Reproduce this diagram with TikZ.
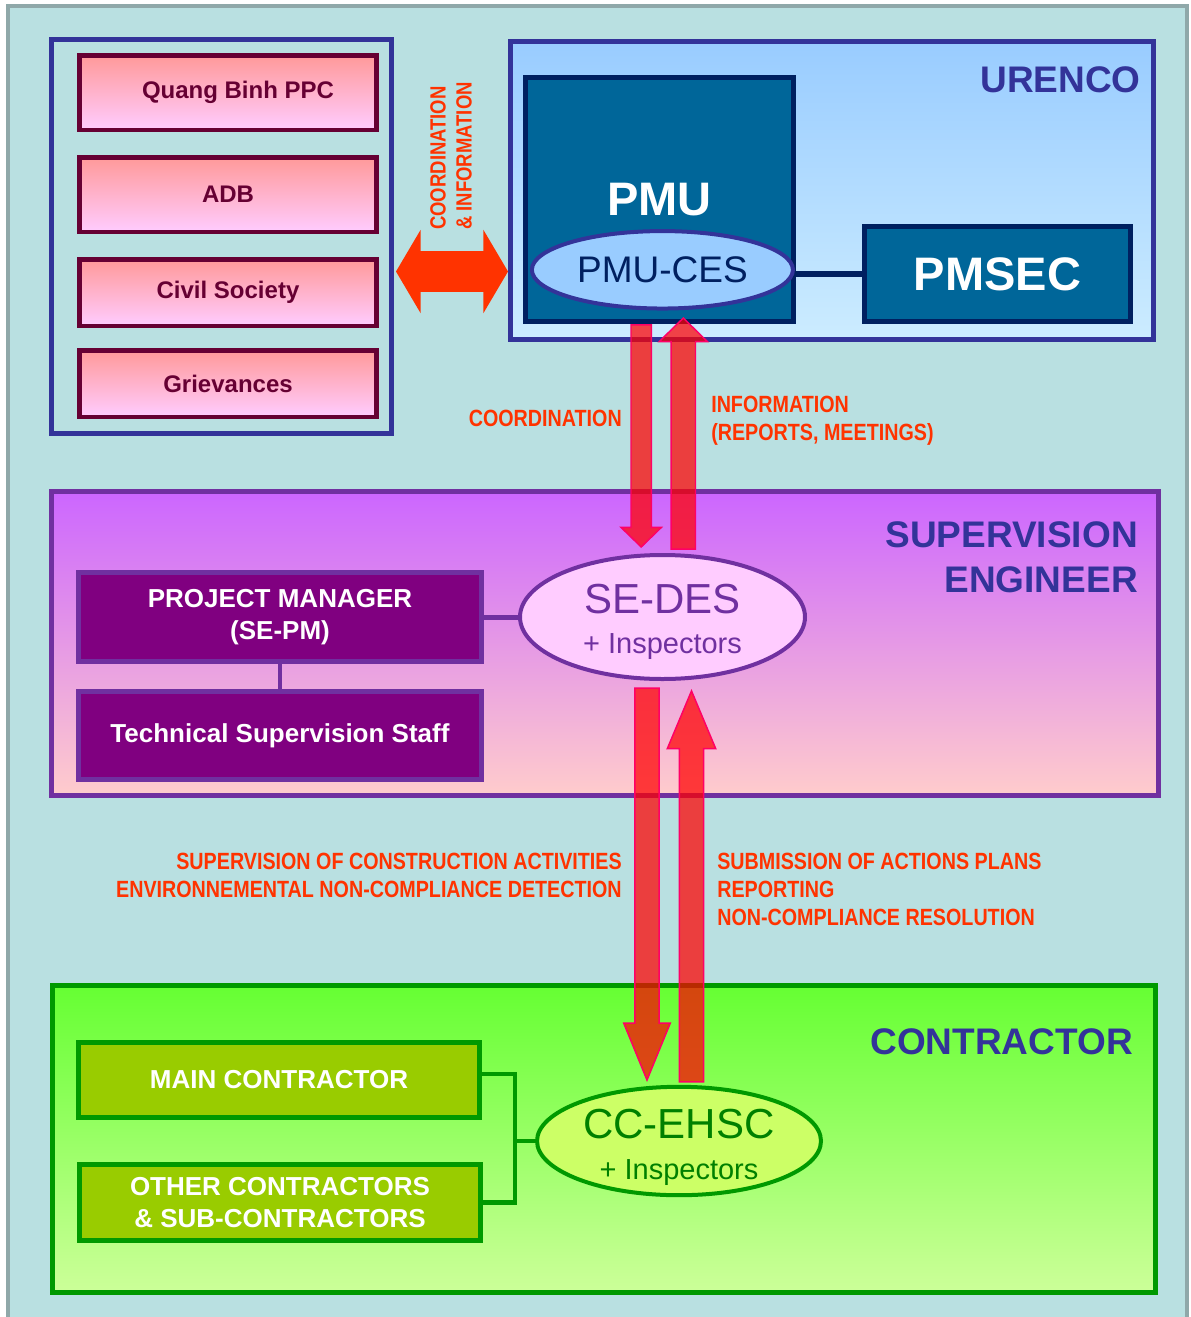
\documentclass[tikz,border=0pt]{standalone}
\usepackage{fontspec}
\setmainfont{Liberation Sans}
\newfontfamily\narrowfont[FakeStretch=0.84]{Liberation Sans}
\usepackage{tikz}
\usetikzlibrary{shapes.geometric,shapes.arrows}

\definecolor{bgteal}{RGB}{185,224,225}
\definecolor{bggray}{RGB}{143,168,169}
\definecolor{navytitle}{RGB}{51,51,153}
\definecolor{labelred}{RGB}{255,51,0}
\definecolor{boxmaroon}{RGB}{102,0,51}
\definecolor{pinktop}{RGB}{255,153,153}
\definecolor{pinkbot}{RGB}{255,204,255}
\definecolor{skytop}{RGB}{153,204,255}
\definecolor{skybot}{RGB}{204,236,255}
\definecolor{pmublue}{RGB}{0,102,153}
\definecolor{darknavy}{RGB}{0,32,96}
\definecolor{violettop}{RGB}{204,102,255}
\definecolor{violetbot}{RGB}{255,204,204}
\definecolor{sepurple}{RGB}{112,48,160}
\definecolor{plum}{RGB}{128,0,128}
\definecolor{lightpink}{RGB}{255,204,255}
\definecolor{limetop}{RGB}{102,255,51}
\definecolor{limebot}{RGB}{204,255,153}
\definecolor{darkgreen}{RGB}{0,153,0}
\definecolor{textgreen}{RGB}{0,128,0}
\definecolor{boxolive}{RGB}{153,204,0}
\definecolor{paleyellow}{RGB}{204,255,102}
\definecolor{arrowpink}{RGB}{255,0,102}

\begin{document}
\begin{tikzpicture}[x=0.75pt,y=0.75pt,yscale=-1,xscale=1,
  frame/.style={draw, line width=3.75pt, inner sep=0pt},
  pinkbox/.style={draw=boxmaroon, line width=3.4pt, top color=pinktop, bottom color=pinkbot, minimum width=223pt, text=boxmaroon, font=\fontsize{18pt}{21pt}\selectfont\bfseries},
  bluebox/.style={draw=darknavy, line width=3.75pt, fill=pmublue, text=white, font=\fontsize{35.25pt}{40pt}\selectfont\bfseries},
  purplebox/.style={draw=sepurple, line width=3.75pt, fill=plum, text=white, minimum width=302.25pt, align=center, font=\fontsize{19.5pt}{24pt}\selectfont\bfseries},
  greenbox/.style={draw=darkgreen, line width=3.75pt, fill=boxolive, text=white, minimum width=300.75pt, align=center, font=\fontsize{19.5pt}{24pt}\selectfont\bfseries},
  oval/.style={ellipse, line width=3pt, inner sep=0pt, align=center},
  title/.style={anchor=east, inner sep=0pt, text=navytitle, align=right, font=\fontsize{27.75pt}{33.75pt}\selectfont\bfseries},
  redlabel/.style={inner sep=0pt, text=labelred, font=\narrowfont\fontsize{17.6pt}{21pt}\selectfont\bfseries},
  flowarrow/.style={single arrow, draw=arrowpink, line width=1.1pt, fill=red, fill opacity=0.72, inner xsep=0pt, anchor=tip, rotate=#1},
]
\useasboundingbox (0,0) rectangle (1190,1317);
\clip (0,0) rectangle (1190,1317);

%Background
\draw[draw=bggray, line width=2.5pt, fill=bgteal] (8,6) rectangle (1187,1340);

%Stakeholders frame and boxes
\node[frame, draw=navytitle, minimum width=255pt, minimum height=295.5pt] (stakeholders) at (221.5,236.5) {};
\node[pinkbox, minimum height=55.9pt] (quangbinh) at (228,92.5) {\hspace*{15pt}Quang Binh PPC};
\node[pinkbox, minimum height=55.9pt] (adb) at (228,194.5) {ADB};
\node[pinkbox, minimum height=49.9pt] (civil) at (228,292.5) {Civil Society};
\node[pinkbox, minimum height=49.9pt] (grievances) at (228,383.5) {Grievances};

%URENCO
\node[frame, draw=navytitle, top color=skytop, bottom color=skybot, minimum width=481.9pt, minimum height=223.5pt] (urenco) at (831.75,190.5) {};
\node[title] (urencotitle) at (1141,80) {URENCO};
\node[bluebox, minimum width=200.7pt, minimum height=183pt] (pmu) at (659.3,199.5) {PMU};
\node[bluebox, minimum width=200.2pt, minimum height=71.25pt] (pmsec) at (997.5,274) {PMSEC};
\node[oval, draw=navytitle, fill=skytop, text=darknavy, minimum width=195.8pt, minimum height=58.1pt, font=\fontsize{27.75pt}{30pt}\selectfont] (pmuces) at (662.4,269.8) {PMU-CES};
\draw[draw=darknavy, line width=4pt] (pmuces.east |- pmsec.west) -- (pmsec.west);

%Supervision engineer
\node[frame, draw=sepurple, top color=violettop, bottom color=violetbot, minimum width=830.25pt, minimum height=228pt] (supervision) at (605,643.5) {};
\node[title] (supervisiontitle) at (1138,557.5) {SUPERVISION\\ENGINEER};
\node[purplebox, minimum height=66.75pt] (projectmanager) at (280,617) {PROJECT MANAGER\\(SE-PM)};
\node[purplebox, minimum height=66pt] (techstaff) at (280,735.5) {Technical Supervision Staff};
\node[oval, draw=sepurple, fill=lightpink, text=sepurple, minimum width=213.75pt, minimum height=93pt, font=\fontsize{31.5pt}{30pt}\selectfont] (sedes) at (662.5,617) {\rule{0pt}{30pt}SE-DES\\{\fontsize{21.75pt}{24pt}\selectfont + Inspectors}};
\draw[draw=sepurple, line width=3.75pt] (projectmanager.east) -- (sedes.west);
\draw[draw=sepurple, line width=3pt] (projectmanager.south) -- (techstaff.north);

%Contractor
\node[frame, draw=darkgreen, top color=limetop, bottom color=limebot, minimum width=827.25pt, minimum height=230.25pt] (contractor) at (604,1139) {};
\node[title] (contractortitle) at (1133,1042) {CONTRACTOR};
\node[greenbox, minimum height=56.25pt] (maincontractor) at (279,1080) {MAIN CONTRACTOR};
\node[greenbox, minimum height=57pt] (othercontractors) at (280,1202.5) {OTHER CONTRACTORS\\\& SUB-CONTRACTORS};
\node[oval, draw=darkgreen, fill=paleyellow, text=textgreen, minimum width=213pt, minimum height=81pt, text height=57.5pt, text depth=0pt, font=\fontsize{31.5pt}{31pt}\selectfont] (ccehsc) at (679,1141) {CC-EHSC\\{\fontsize{21.75pt}{24pt}\selectfont + Inspectors}};
\coordinate (bracket) at (515,1141);
\draw[draw=darkgreen, line width=3.2pt] ([yshift=-4.5pt]maincontractor.east) -| (bracket) |- (othercontractors.east);
\draw[draw=darkgreen, line width=3.2pt] (ccehsc.west) -- (bracket);

%Block arrows
\node[double arrow, fill=labelred, inner xsep=0pt, inner ysep=15pt, minimum height=84pt, minimum width=62.25pt, double arrow head extend=16.1pt, double arrow tip angle=118.9] (exchange) at (452,271.5) {};
\node[flowarrow=-90, inner ysep=7.1pt, minimum height=166.5pt, minimum width=29.25pt, single arrow head extend=7.5pt, single arrow tip angle=91.6] (coordarrow) at (641.2,548) {};
\node[flowarrow=90, inner ysep=8.6pt, minimum height=173.25pt, minimum width=35.25pt, single arrow head extend=9pt, single arrow tip angle=91.2] (infoarrow) at (683.3,317) {};
\node[flowarrow=-90, inner ysep=8.5pt, minimum height=294pt, minimum width=33.75pt, single arrow head extend=8.4pt, single arrow tip angle=44.5] (superarrow) at (647,1082) {};
\node[flowarrow=90, inner ysep=8.6pt, minimum height=293.25pt, minimum width=35.25pt, single arrow head extend=9pt, single arrow tip angle=45.5] (submitarrow) at (691.5,689) {};

% Text Node
\node[redlabel, font=\narrowfont\fontsize{16.5pt}{19.5pt}\selectfont\bfseries, rotate=90, anchor=west, align=left] (exchangelabel) at (451,230) {COORDINATION\\\& INFORMATION};
% Text Node
\node[redlabel, anchor=east] (coordlabel) at (622,418) {COORDINATION};
% Text Node
\node[redlabel, anchor=west, align=left] (infolabel) at (711,421) {INFORMATION\\(REPORTS, MEETINGS)};
% Text Node
\node[redlabel, anchor=east, align=right] (superlabel) at (622,875) {SUPERVISION OF CONSTRUCTION ACTIVITIES\\ENVIRONNEMENTAL NON-COMPLIANCE DETECTION};
% Text Node
\node[redlabel, anchor=west, align=left] (submitlabel) at (717,889.5) {SUBMISSION OF ACTIONS PLANS\\REPORTING\\NON-COMPLIANCE RESOLUTION};

\end{tikzpicture}
\end{document}
